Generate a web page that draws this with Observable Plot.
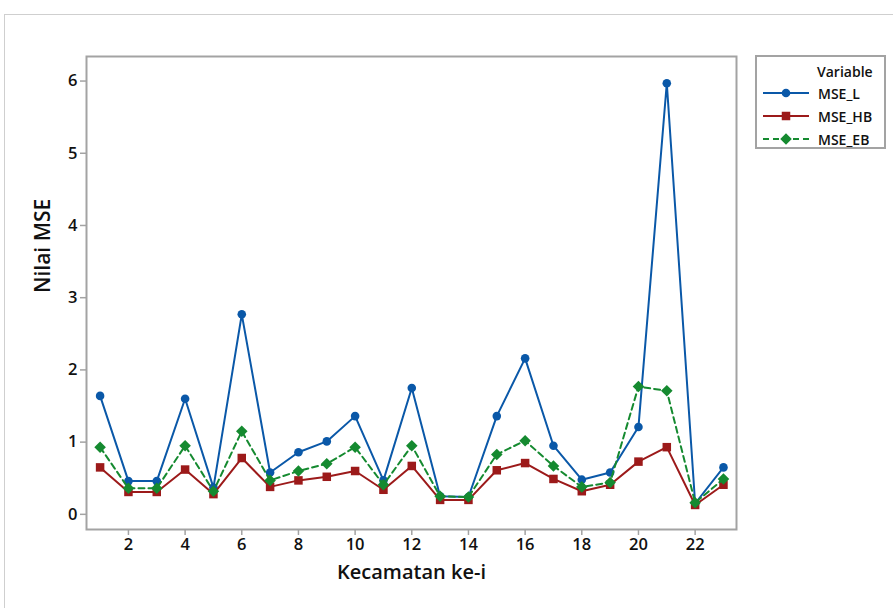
<!DOCTYPE html>
<html>
<head>
<meta charset="utf-8">
<script src="https://cdn.jsdelivr.net/npm/d3@7"></script>
<script src="https://cdn.jsdelivr.net/npm/@observablehq/plot@0.6"></script>
<style>
  html, body { margin: 0; padding: 0; background: #fff; }
  body { width: 893px; height: 608px; position: relative; overflow: hidden; font-family: "Open Sans", sans-serif; }
  #outer { position: absolute; left: 4px; top: 14px; width: 900px; height: 620px; border-top: 1px solid #cfcfcf; border-left: 1px solid #cfcfcf; }
  #chart { position: absolute; left: 0; top: 0; }
  #legend { position: absolute; left: 755px; top: 55px; width: 131px; height: 94px; border: 2px solid #a3a3a3; box-sizing: border-box; background: #fff; font-family: "Open Sans", sans-serif; font-weight: 600; font-size: 14px; color: #111; }
  #legend .title { position: absolute; left: 60px; top: 5px; }
  #legend .row { position: absolute; left: 4px; height: 20px; display: flex; align-items: center; }
  #legend .row span { margin-left: 7px; }
</style>
</head>
<body>
<div id="outer"></div>
<div id="chart"></div>
<div id="legend"><div class="title">Variable</div></div>
<script>
const kecamatan = [1,2,3,4,5,6,7,8,9,10,11,12,13,14,15,16,17,18,19,20,21,22,23];
const mseL  = [1.64,0.46,0.46,1.60,0.37,2.77,0.58,0.86,1.01,1.36,0.47,1.75,0.25,0.24,1.36,2.16,0.95,0.48,0.58,1.21,5.97,0.15,0.65];
const mseHB = [0.65,0.31,0.31,0.62,0.28,0.78,0.38,0.47,0.52,0.60,0.34,0.67,0.20,0.20,0.61,0.71,0.49,0.32,0.41,0.73,0.93,0.13,0.41];
const mseEB = [0.93,0.36,0.36,0.95,0.32,1.15,0.47,0.60,0.70,0.93,0.41,0.95,0.25,0.24,0.83,1.02,0.67,0.38,0.44,1.77,1.71,0.16,0.49];
const seriesNames = ["MSE_L", "MSE_HB", "MSE_EB"];
const xTicks = [2,4,6,8,10,12,14,16,18,20,22];
const yTicks = [0,1,2,3,4,5,6];

const styles = {
  MSE_L:  {color: "#0a58a8", symbol: "circle",   r: 4.3, dash: null},
  MSE_HB: {color: "#9c1a1a", symbol: "square",   r: 4.8, dash: null},
  MSE_EB: {color: "#158a30", symbol: "diamond2", r: 5.2, dash: "6,4"}
};
const values = {MSE_L: mseL, MSE_HB: mseHB, MSE_EB: mseEB};
const data = seriesNames.map(name => kecamatan.map((k, i) => ({k, v: values[name][i], name})));

const marks = [
  Plot.frame({stroke: "#a3a3a3", strokeWidth: 2}),
  Plot.axisX({ticks: xTicks, tickSize: 6, tickPadding: 3, stroke: "#a3a3a3", strokeWidth: 1.5, fontSize: 16.5, fontWeight: 600, fill: "#111", label: null, tickFormat: d => d}),
  Plot.axisY({ticks: yTicks, tickSize: 6, tickPadding: 3, stroke: "#a3a3a3", strokeWidth: 1.5, fontSize: 16.5, fontWeight: 600, fill: "#111", label: null, tickFormat: d => d}),
  Plot.text(["Kecamatan ke-i"], {frameAnchor: "bottom", dy: 49, text: d => d, fontSize: 20, fontWeight: 600, fill: "#111"}),
  Plot.text(["Nilai MSE"], {frameAnchor: "left", dx: -43, rotate: -90, text: d => d, fontSize: 21, fontWeight: 600, fill: "#111"})
];
data.forEach(series => {
  const s = styles[series[0].name];
  marks.push(Plot.line(series, {x: "k", y: "v", stroke: s.color, strokeWidth: 2, strokeDasharray: s.dash}));
  marks.push(Plot.dot(series, {x: "k", y: "v", fill: s.color, stroke: "none", symbol: () => s.symbol, r: s.r}));
});

const chart = Plot.plot({
  width: 893,
  height: 608,
  marginLeft: 86,
  marginRight: 157,
  marginTop: 56,
  marginBottom: 79,
  style: {fontFamily: "'Open Sans', sans-serif", background: "transparent", overflow: "visible"},
  x: {domain: [0.52, 23.46]},
  y: {domain: [-0.21, 6.34]},
  marks
});
document.getElementById("chart").appendChild(chart);

// legend
const legend = document.getElementById("legend");
seriesNames.forEach((name, i) => {
  const s = styles[name];
  const row = document.createElement("div");
  row.className = "row";
  row.style.top = (26 + i * 23) + "px";
  const svg = d3.create("svg").attr("width", 50).attr("height", 20);
  svg.append("line").attr("x1", 2).attr("x2", 48).attr("y1", 10).attr("y2", 10)
    .attr("stroke", s.color).attr("stroke-width", 2).attr("stroke-dasharray", s.dash);
  const symType = {circle: d3.symbolCircle, square: d3.symbolSquare, diamond2: d3.symbolDiamond2}[s.symbol];
  svg.append("path").attr("transform", "translate(25,10)")
    .attr("d", d3.symbol(symType, Math.PI * s.r * s.r)()).attr("fill", s.color);
  row.appendChild(svg.node());
  const label = document.createElement("span");
  label.textContent = name;
  row.appendChild(label);
  legend.appendChild(row);
});
</script>
</body>
</html>
